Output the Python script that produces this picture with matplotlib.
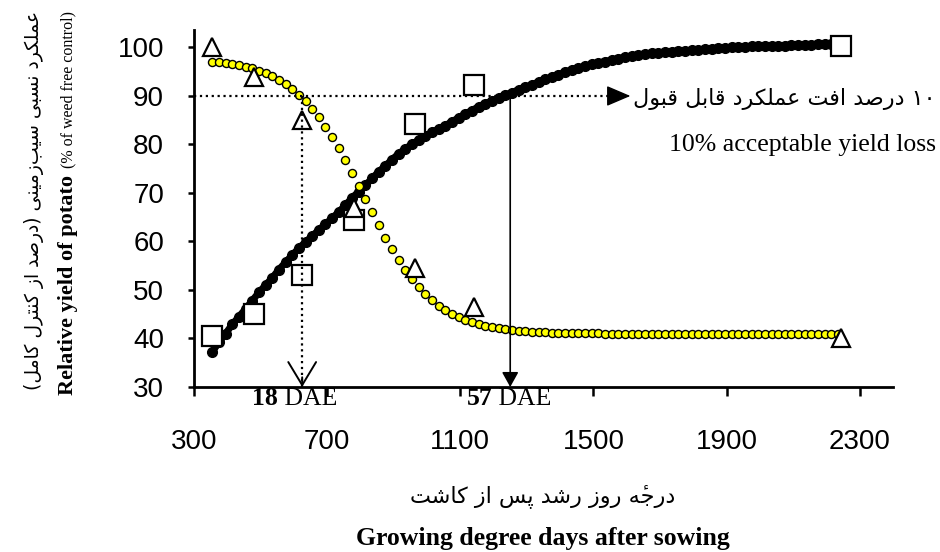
import unicodedata
import matplotlib
matplotlib.use('Agg')
import matplotlib.pyplot as plt

# observed relative yields at the sampling dates (GDD after sowing)
obs_gdd = [355, 480, 625, 780, 965, 1140, 2245]
weedy_yield = [100, 94, 85, 67, 54.5, 46.5, 40]            # triangles
weedfree_yield = [40.5, 45, 53, 64.5, 84.3, 92.2, 100.2]   # squares

# fitted curves (dots)
fit_gdd = [355, 375, 395, 415, 435, 455, 475, 495, 515, 535, 555, 575,
           595, 615, 635, 655, 675, 695, 715, 735, 755, 775, 795, 815,
           835, 855, 875, 895, 915, 935, 955, 975, 995, 1015, 1035, 1055,
           1075, 1095, 1115, 1135, 1155, 1175, 1195, 1215, 1235, 1255, 1275, 1295,
           1315, 1335, 1355, 1375, 1395, 1415, 1435, 1455, 1475, 1495, 1515, 1535,
           1555, 1575, 1595, 1615, 1635, 1655, 1675, 1695, 1715, 1735, 1755, 1775,
           1795, 1815, 1835, 1855, 1875, 1895, 1915, 1935, 1955, 1975, 1995, 2015,
           2035, 2055, 2075, 2095, 2115, 2135, 2155, 2175, 2195, 2215, 2235]
fit_weedy = [97.1, 97.0, 96.8, 96.6, 96.3, 96.0, 95.7, 95.2, 94.7, 94.1, 93.3, 92.5,
             91.5, 90.3, 89.0, 87.4, 85.7, 83.7, 81.6, 79.3, 76.8, 74.2, 71.5, 68.7,
             66.0, 63.3, 60.8, 58.4, 56.1, 54.1, 52.2, 50.6, 49.1, 47.9, 46.8, 45.9,
             45.1, 44.4, 43.8, 43.4, 43.0, 42.6, 42.3, 42.1, 41.9, 41.8, 41.6, 41.5,
             41.4, 41.4, 41.3, 41.2, 41.2, 41.2, 41.1, 41.1, 41.1, 41.1, 41.1, 41.0,
             41.0, 41.0, 41.0, 41.0, 41.0, 41.0, 41.0, 41.0, 41.0, 41.0, 41.0, 41.0,
             41.0, 41.0, 41.0, 41.0, 41.0, 41.0, 41.0, 41.0, 41.0, 41.0, 41.0, 41.0,
             41.0, 41.0, 41.0, 41.0, 41.0, 41.0, 41.0, 41.0, 41.0, 41.0, 41.0]
fit_weedfree = [37.3, 39.2, 41.0, 42.9, 44.5, 46.1, 47.8, 49.5, 51.0, 52.5, 54.2, 55.7,
                57.2, 58.6, 59.9, 61.1, 62.4, 63.6, 64.8, 66.1, 67.5, 69.0, 70.3, 71.6,
                73.0, 74.4, 75.6, 76.9, 78.1, 79.1, 80.1, 80.9, 81.7, 82.5, 83.2, 83.9,
                84.7, 85.5, 86.3, 87.0, 87.8, 88.4, 89.0, 89.6, 90.2, 90.7, 91.3, 91.8,
                92.3, 92.9, 93.4, 93.9, 94.4, 94.9, 95.4, 95.8, 96.1, 96.5, 96.8, 97.1,
                97.4, 97.7, 98.0, 98.2, 98.4, 98.6, 98.8, 98.9, 99.0, 99.1, 99.2, 99.3,
                99.4, 99.5, 99.6, 99.7, 99.8, 99.9, 100.0, 100.0, 100.1, 100.2, 100.2, 100.3,
                100.3, 100.4, 100.4, 100.5, 100.5, 100.6, 100.6, 100.7, 100.7, 100.8, 100.8]

xticks = [300, 700, 1100, 1500, 1900, 2300]
yticks = [30, 40, 50, 60, 70, 80, 90, 100]

loss_level = 90      # 10% acceptable yield loss
cp_start = 625       # 18 DAE
cp_end = 1250        # 57 DAE

ylab_fa = 'عملکرد نسبی سیب\u200cزمینی (درصد از کنترل کامل)'
xlab_fa = 'درجه\u0654 روز رشد پس از کاشت'
note_fa = '۱۰ درصد افت عملکرد قابل قبول'

# --- tiny Persian shaper (matplotlib has no bidi / joining) ---
FORMS = {
    'ا': ('\uFE8D', '\uFE8E', None, None),
    'ب': ('\uFE8F', '\uFE90', '\uFE91', '\uFE92'),
    'پ': ('\uFB56', '\uFB57', '\uFB58', '\uFB59'),
    'ت': ('\uFE95', '\uFE96', '\uFE97', '\uFE98'),
    'ج': ('\uFE9D', '\uFE9E', '\uFE9F', '\uFEA0'),
    'د': ('\uFEA9', '\uFEAA', None, None),
    'ر': ('\uFEAD', '\uFEAE', None, None),
    'ز': ('\uFEAF', '\uFEB0', None, None),
    'س': ('\uFEB1', '\uFEB2', '\uFEB3', '\uFEB4'),
    'ش': ('\uFEB5', '\uFEB6', '\uFEB7', '\uFEB8'),
    'ص': ('\uFEB9', '\uFEBA', '\uFEBB', '\uFEBC'),
    'ع': ('\uFEC9', '\uFECA', '\uFECB', '\uFECC'),
    'ف': ('\uFED1', '\uFED2', '\uFED3', '\uFED4'),
    'ق': ('\uFED5', '\uFED6', '\uFED7', '\uFED8'),
    'ک': ('\uFB8E', '\uFB8F', '\uFB90', '\uFB91'),
    'ل': ('\uFEDD', '\uFEDE', '\uFEDF', '\uFEE0'),
    'م': ('\uFEE1', '\uFEE2', '\uFEE3', '\uFEE4'),
    'ن': ('\uFEE5', '\uFEE6', '\uFEE7', '\uFEE8'),
    'ه': ('\uFEE9', '\uFEEA', '\uFEEB', '\uFEEC'),
    'و': ('\uFEED', '\uFEEE', None, None),
    'ی': ('\uFBFC', '\uFBFD', '\uFBFE', '\uFBFF'),
}


def shape_word(word):
    chars = list(word)
    out = []
    for i, c in enumerate(chars):
        if c == '\u200c':
            continue
        if unicodedata.combining(c) and out:
            out[-1] += c
            continue
        if c not in FORMS:
            out.append(c)
            continue
        j = i - 1
        while j >= 0 and unicodedata.combining(chars[j]):
            j -= 1
        prev = chars[j] if j >= 0 else ''
        k = i + 1
        while k < len(chars) and unicodedata.combining(chars[k]):
            k += 1
        nxt = chars[k] if k < len(chars) else ''
        f = FORMS[c]
        jp = prev in FORMS and FORMS[prev][2] is not None
        jn = f[2] is not None and nxt in FORMS
        out.append(f[3] if jp and jn else f[1] if jp else f[2] if jn else f[0])
    return out


def rtl(text):
    words = []
    for w in text.split(' '):
        if w.isdigit():
            words.append(w)
        else:
            words.append(''.join(reversed(shape_word(w))))
    s = ' '.join(reversed(words))
    return s.replace('(', '\0').replace(')', '(').replace('\0', ')')


SERIF = 'Liberation Serif'
SANS = 'Liberation Sans'
FA = 'DejaVu Sans'

fig = plt.figure(figsize=(9.4, 5.52), dpi=100)
ax = fig.add_axes([194 / 940, 1 - 387 / 552, 699 / 940, 357 / 552])

ax.plot(fit_gdd, fit_weedfree, '-o', color='black', lw=5, ms=7, zorder=2)
ax.plot(fit_gdd, fit_weedy, 'o', mfc='#ffff00', mec='black', mew=1.0, ms=5.8, zorder=3)
ax.plot(obs_gdd, weedfree_yield, 's', mfc='white', mec='black', mew=1.6, ms=14.5, zorder=4)
ax.plot(obs_gdd, weedy_yield, '^', mfc='white', mec='black', mew=1.6, ms=13.5, zorder=4)

ax.set_xlim(300, 2400)
ax.set_ylim(30, 103.6)
ax.set_xticks(xticks)
ax.set_yticks(yticks)
for s in ['top', 'right']:
    ax.spines[s].set_visible(False)
for s in ['left', 'bottom']:
    ax.spines[s].set_linewidth(2)
ax.tick_params(axis='x', direction='out', length=6.5, width=1.8, pad=24, labelsize=20)
ax.tick_params(axis='y', direction='out', length=4.5, width=1.8, pad=17, labelsize=20)
for lab in ax.get_xticklabels() + ax.get_yticklabels():
    lab.set_fontfamily(SANS)

# 10% yield loss line with arrow to the note
tip = 1611
ax.plot([300, tip - 30], [loss_level, loss_level], ':', color='black', lw=1.6, zorder=5)
ax.annotate('', xy=(tip, loss_level), xytext=(tip - 45, loss_level),
            arrowprops=dict(arrowstyle='-|>,head_length=0.75,head_width=0.32', lw=1.0,
                            color='black', mutation_scale=20, shrinkA=0, shrinkB=0),
            zorder=5)
ax.plot([cp_start, cp_start], [loss_level, 30], ':', color='black', lw=1.6, zorder=5)
ax.annotate('', xy=(cp_start, 30), xytext=(cp_start, 32),
            arrowprops=dict(arrowstyle='->,head_length=0.83,head_width=0.5', lw=1.4,
                            color='black', mutation_scale=20, shrinkA=0, shrinkB=0), zorder=5)
ax.annotate('', xy=(cp_end, 30), xytext=(cp_end, loss_level),
            arrowprops=dict(arrowstyle='-|>,head_length=0.45,head_width=0.25', lw=1.2,
                            color='black', mutation_scale=20, shrinkA=0, shrinkB=0), zorder=5)

ax.text(1620, 89.3, rtl(note_fa), family=FA, fontsize=16, ha='left', va='center',
        clip_on=False)
ax.text(2528, 79.9, '10% acceptable yield loss', family=SERIF, fontsize=18.5,
        ha='right', va='center', clip_on=False)

for xj, days in [(553, '18'), (1196, '57')]:
    ax.text(xj, 27.6, days, family=SERIF, fontweight='bold', fontsize=18.5,
            ha='right', va='center', clip_on=False)
    ax.text(xj, 27.6, ' DAE', family=SERIF, fontsize=18.5, ha='left', va='center', clip_on=False)

# axis titles
fig.text(543 / 940, 1 - 496 / 552, rtl(xlab_fa), family=FA, fontsize=16, ha='center', va='center')
fig.text(543 / 940, 1 - 538 / 552, 'Growing degree days after sowing', family=SERIF,
         fontweight='bold', fontsize=18.5, ha='center', va='center')
fig.text(34 / 940, 1 - 200 / 552, rtl(ylab_fa), family=FA, fontsize=13.5, rotation=90,
         ha='center', va='center')
fig.text(68 / 940, 1 - 395 / 552, 'Relative yield of potato', family=SERIF, fontweight='bold',
         fontsize=16, rotation=90, ha='center', va='bottom')
fig.text(68 / 940, 1 - 168 / 552, '(% of weed free control)', family=SERIF,
         fontsize=11.5, rotation=90, ha='center', va='bottom')

fig.savefig('out.png', dpi=100)
